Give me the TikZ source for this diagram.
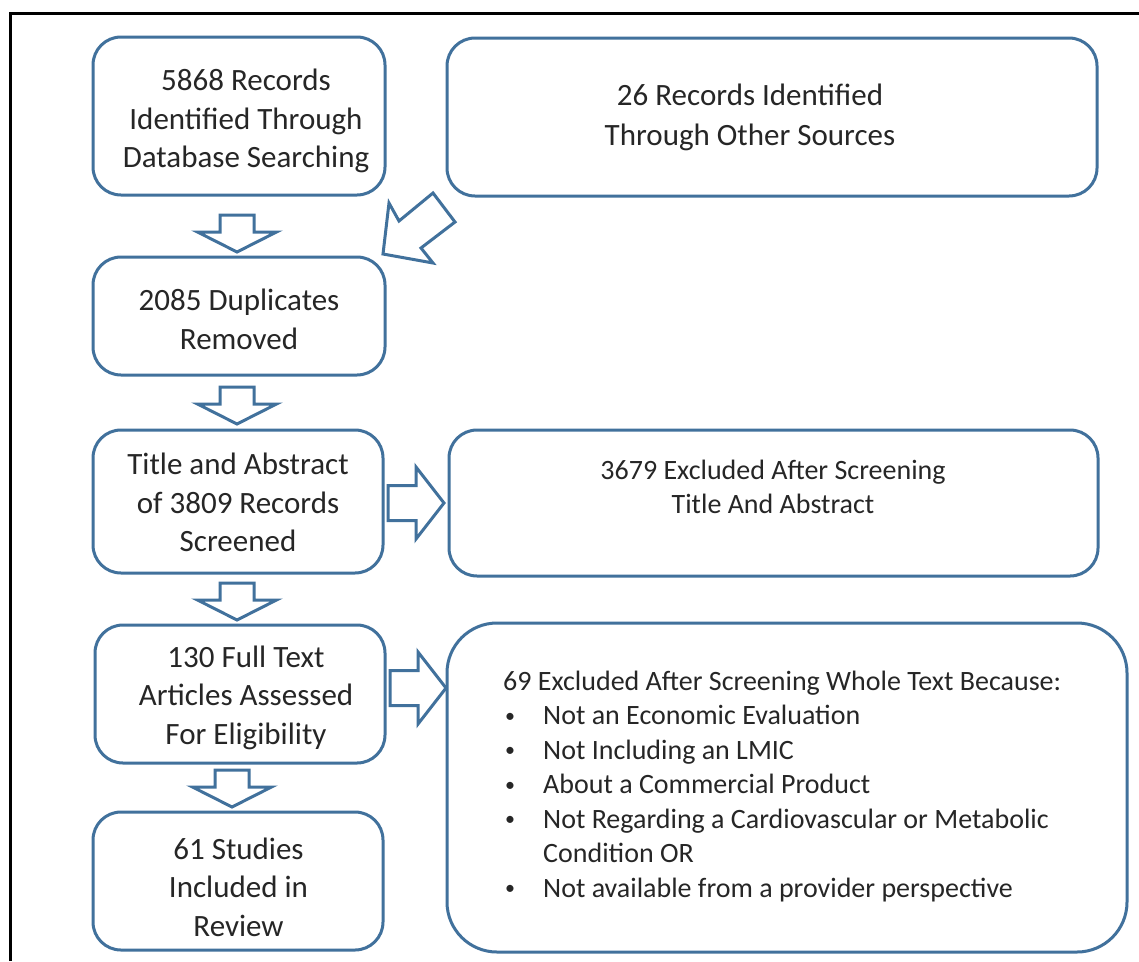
\documentclass[tikz,border=0pt]{standalone}
\usepackage{fontspec}
\setmainfont{Carlito}
\definecolor{boxblue}{RGB}{65,113,156}
\definecolor{txt}{RGB}{38,38,38}
\newcommand{\mybul}{\hspace*{2pt}\makebox[38pt][l]{\raisebox{2.5pt}{\fontsize{20}{20}\selectfont •}}}
\tikzset{
  box/.style={draw=boxblue, line width=3pt, rounded corners=28pt, inner sep=0pt, fill=white},
  bigtxt/.style={align=center, inner sep=0pt, text=txt, font=\fontsize{31}{38.5}\selectfont},
  smalltxt/.style={align=center, inner sep=0pt, text=txt, font=\fontsize{28}{34}\selectfont},
  blockarrow/.style={draw=boxblue, line width=3pt, line join=miter, fill=white},
  darr/.pic={\draw[blockarrow] (-17,0) -- (17,0) -- (17,17) -- (39.5,17) -- (0,37) -- (-39.5,17) -- (-17,17) -- cycle;},
  rarr/.pic={\draw[blockarrow] (0,-17.5) -- (28,-17.5) -- (28,-36) -- (56,0) -- (28,36) -- (28,17.5) -- (0,17.5) -- cycle;}
}
\begin{document}
\begin{tikzpicture}[x=1pt,y=-1pt]
\useasboundingbox (0,0) rectangle (1139,961);
\fill[white] (0,0) rectangle (1139,961);
\draw[black, line width=3pt] (10,961) -- (10,13) -- (1139,13);

% boxes
\node[box, minimum width=292pt, minimum height=158pt] (b1) at (239,116) {};
\node[bigtxt] (t1) at (246,121) {5868 Records\\Identified Through\\Database Searching};

\node[box, minimum width=650pt, minimum height=158pt] (b2) at (772,117) {};
\node[bigtxt, font=\fontsize{31}{40}\selectfont] (t2) at (750,117.5) {26 Records Identified\\Through Other Sources};

\node[box, minimum width=292pt, minimum height=118pt] (b3) at (239,316) {};
\node[bigtxt] (t3) at (239,319.5) {2085 Duplicates\\Removed};

\node[box, minimum width=290pt, minimum height=143pt] (b4) at (238,501.5) {};
\node[bigtxt] (t4) at (238,502.5) {Title and Abstract\\of 3809 Records\\Screened};

\node[box, minimum width=649pt, minimum height=146pt] (b5) at (773.5,503) {};
\node[smalltxt] (t5) at (773,487) {3679 Excluded After Screening\\Title And Abstract};

\node[box, minimum width=290pt, minimum height=138pt] (b6) at (240,694) {};
\node[bigtxt] (t6) at (246,697.5) {130 Full Text\\Articles Assessed\\For Eligibility};

\node[box, rounded corners=50pt, minimum width=680pt, minimum height=329pt] (b7) at (787,787.5) {};
\node[smalltxt, align=left, anchor=west, font=\fontsize{28}{34.5}\selectfont] (t7) at (503,786.5) {69 Excluded After Screening Whole Text Because:\\
\mybul Not an Economic Evaluation\\
\mybul Not Including an LMIC\\
\mybul About a Commercial Product\\
\mybul Not Regarding a Cardiovascular or Metabolic\\
\hspace*{40pt}Condition OR\\
\mybul Not available from a provider perspective};

\node[box, minimum width=290pt, minimum height=138pt] (b8) at (238,881) {};
\node[bigtxt] (t8) at (238.5,887) {61 Studies\\Included in\\Review};

% block arrows
\pic at (237,215) {darr};
\pic at (237,387) {darr};
\pic at (237,583) {darr};
\pic at (232,770) {darr};
\pic at (388,503) {rarr};
\pic at (390,688) {rarr};
\draw[blockarrow] (383,254) -- (389,203) -- (399,221) -- (433,193) -- (455,222) -- (421,248) -- (433,263) -- cycle;
\end{tikzpicture}
\end{document}
